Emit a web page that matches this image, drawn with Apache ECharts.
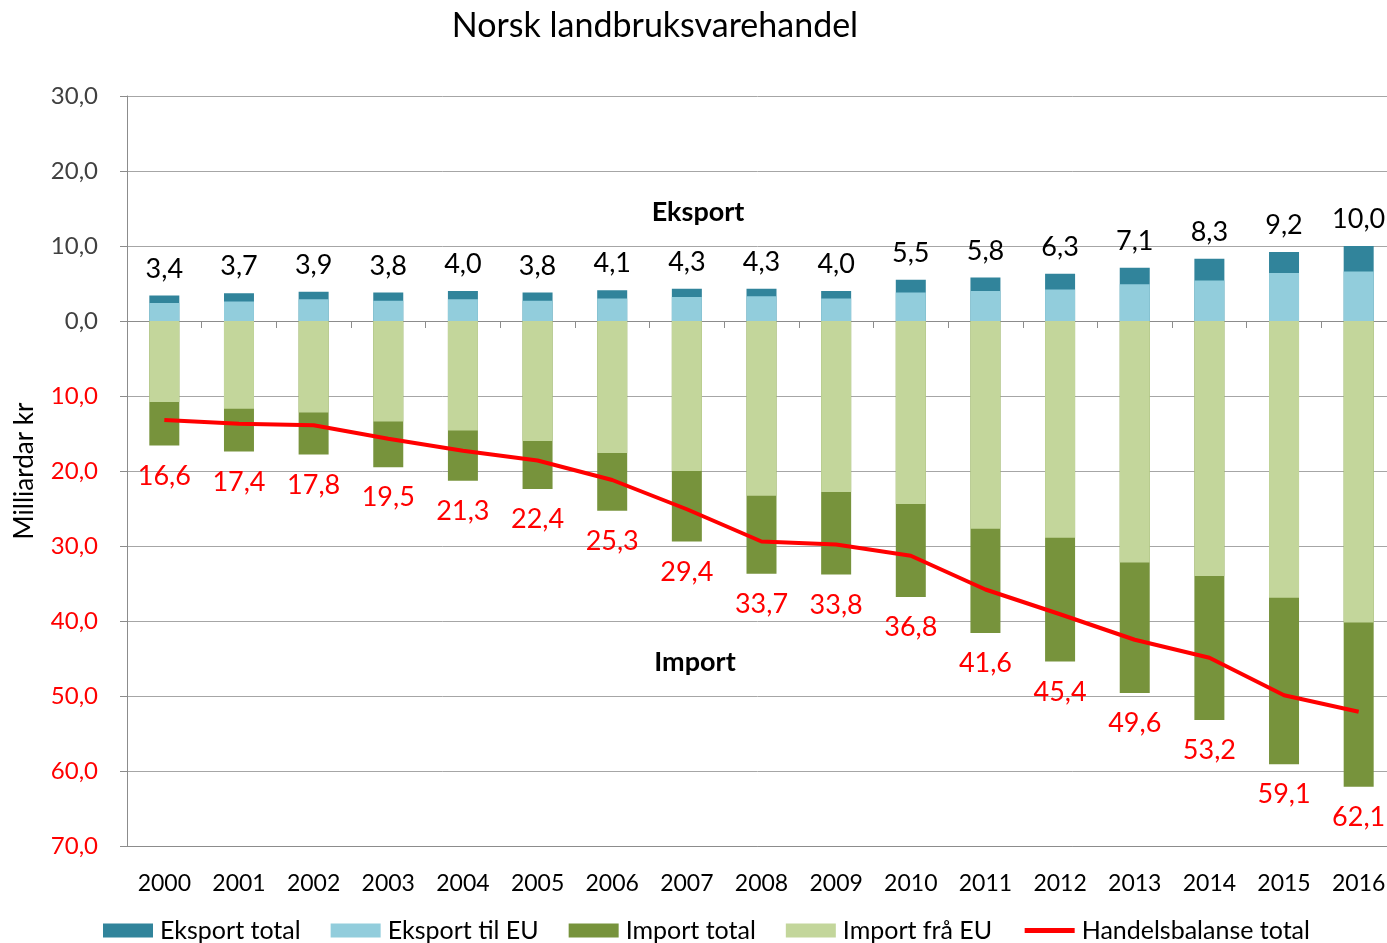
<!DOCTYPE html>
<html>
<head>
<meta charset="utf-8">
<title>Norsk landbruksvarehandel</title>
<script src="https://cdn.jsdelivr.net/npm/echarts@6/dist/echarts.min.js"></script>
<style>
  html, body { margin: 0; padding: 0; background: #fff; }
  #main { width: 1387px; height: 943px; }
</style>
</head>
<body>
<div id="main"></div>
<script>
// data (milliardar kr)
var years = ['2000', '2001', '2002', '2003', '2004', '2005', '2006', '2007', '2008',
             '2009', '2010', '2011', '2012', '2013', '2014', '2015', '2016'];
var eksportTotal = [3.4, 3.7, 3.9, 3.8, 4.0, 3.8, 4.1, 4.3, 4.3, 4.0, 5.5, 5.8, 6.3, 7.1, 8.3, 9.2, 10.0];
var eksportEU = [2.4, 2.6, 2.9, 2.7, 2.9, 2.7, 3.0, 3.2, 3.3, 3.0, 3.8, 4.0, 4.2, 4.9, 5.4, 6.4, 6.6];
var importTotal = [-16.6, -17.4, -17.8, -19.5, -21.3, -22.4, -25.3, -29.4, -33.7, -33.8, -36.8, -41.6, -45.4, -49.6, -53.2, -59.1, -62.1];
var importEU = [-10.8, -11.7, -12.2, -13.4, -14.6, -16.0, -17.6, -20.0, -23.3, -22.8, -24.4, -27.7, -28.9, -32.2, -34.0, -36.9, -40.2];
var handelsbalanse = [-13.2, -13.7, -13.9, -15.7, -17.3, -18.6, -21.2, -25.1, -29.4, -29.8, -31.3, -35.8, -39.1, -42.5, -44.9, -49.9, -52.1];

var FONT = 'Lato';
var fmt = function (v) { return Math.abs(v).toFixed(1).replace('.', ','); };

var myChart = echarts.init(document.getElementById('main'));

var option = {
    backgroundColor: '#fff',
    textStyle: { fontFamily: FONT },
    title: {
        text: 'Norsk landbruksvarehandel',
        left: 650,
        top: 4,
        textAlign: 'center',
        textStyle: { fontFamily: FONT, fontSize: 34, fontWeight: 'normal', color: '#000' }
    },
    legend: {
        top: 913,
        left: 98,
        itemWidth: 50,
        itemHeight: 14,
        itemGap: 30,
        textStyle: { fontFamily: FONT, fontSize: 25, color: '#000', padding: [0, 0, 0, 2] },
        data: [
            { name: 'Eksport total', icon: 'rect' },
            { name: 'Eksport til EU', icon: 'rect' },
            { name: 'Import total', icon: 'rect' },
            { name: 'Import frå EU', icon: 'rect' },
            { name: 'Handelsbalanse total', itemStyle: { opacity: 0 }, lineStyle: { width: 5, color: '#ff0000' } }
        ]
    },
    grid: { left: 127, right: -9, top: 96, bottom: 97, outerBoundsMode: 'none', containLabel: false },
    xAxis: [{
        type: 'category',
        data: years,
        position: 'bottom',
        axisLine: { onZero: false, lineStyle: { color: '#8c8c8c' } },
        axisTick: { show: false },
        axisLabel: { fontFamily: FONT, fontSize: 23, color: '#000', margin: 26, interval: 0 }
    }, {
        type: 'category',
        data: years,
        position: 'top',
        axisLine: { onZero: true, lineStyle: { color: '#8c8c8c' } },
        axisTick: { show: true, inside: true, length: 7, lineStyle: { color: '#8c8c8c' } },
        axisLabel: { show: false }
    }],
    yAxis: {
        type: 'value',
        min: -70,
        max: 30,
        interval: 10,
        name: 'Milliardar kr',
        nameLocation: 'middle',
        nameGap: 89,
        nameTextStyle: { fontFamily: FONT, fontSize: 26, color: '#000' },
        axisLine: { show: true, lineStyle: { color: '#8c8c8c' } },
        axisTick: { show: true, length: 7, lineStyle: { color: '#8c8c8c' } },
        splitLine: { lineStyle: { color: '#a6a6a6' } },
        axisLabel: {
            fontFamily: FONT,
            fontSize: 24,
            margin: 29,
            formatter: fmt,
            color: function (v) { return Number(v) < 0 ? '#ff0000' : '#404040'; }
        }
    },
    graphic: [
        { type: 'text', x: 698, y: 212, style: { text: 'Eksport', fontFamily: FONT, fontSize: 27, fontWeight: 'bold', fill: '#000', textAlign: 'center', textVerticalAlign: 'middle' } },
        { type: 'text', x: 695, y: 662, style: { text: 'Import', fontFamily: FONT, fontSize: 27, fontWeight: 'bold', fill: '#000', textAlign: 'center', textVerticalAlign: 'middle' } }
    ],
    series: [{
        name: 'Eksport total',
        type: 'bar',
        barWidth: 30,
        barGap: '-100%',
        itemStyle: { color: '#31849b' },
        label: { show: true, position: 'top', distance: 13, formatter: function (p) { return fmt(p.value); },
                 fontFamily: FONT, fontSize: 27, color: '#000' },
        data: eksportTotal
    }, {
        name: 'Eksport til EU',
        type: 'bar',
        barWidth: 30,
        barGap: '-100%',
        itemStyle: { color: '#92cddc' },
        data: eksportEU
    }, {
        name: 'Import total',
        type: 'bar',
        barWidth: 30,
        barGap: '-100%',
        itemStyle: { color: '#77933c' },
        label: { show: true, position: 'bottom', distance: 17, formatter: function (p) { return fmt(p.value); },
                 fontFamily: FONT, fontSize: 27, color: '#ff0000' },
        data: importTotal
    }, {
        name: 'Import frå EU',
        type: 'bar',
        barWidth: 30,
        barGap: '-100%',
        itemStyle: { color: '#c3d69b' },
        data: importEU
    }, {
        name: 'Handelsbalanse total',
        type: 'line',
        showSymbol: false,
        symbol: 'none',
        z: 5,
        itemStyle: { color: '#ff0000' },
        lineStyle: { color: '#ff0000', width: 4 },
        data: handelsbalanse
    }],
    animation: false
};

myChart.setOption(option);
</script>
</body>
</html>
